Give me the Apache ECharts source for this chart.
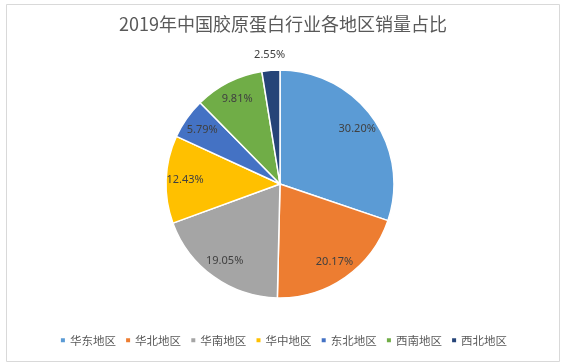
<!DOCTYPE html>
<html>
<head>
<meta charset="utf-8">
<script src="https://cdn.jsdelivr.net/npm/echarts@6/dist/echarts.min.js"></script>
<style>
html,body{margin:0;padding:0;background:#fff;}
#main{width:566px;height:364px;}
</style>
</head>
<body>
<div id="main"></div>
<script>
const titleText = '2019年中国胶原蛋白行业各地区销量占比';
const categories = ['华东地区','华北地区','华南地区','华中地区','东北地区','西南地区','西北地区'];
const shares = [30.20, 20.17, 19.05, 12.43, 5.79, 9.81, 2.55];
const colors = ['#5B9BD5','#ED7D31','#A5A5A5','#FFC000','#4472C4','#70AD47','#264478'];
const outsideLabel = [false, false, false, false, false, false, true];

const chart = echarts.init(document.getElementById('main'), null, {renderer: 'canvas'});
const pieData = categories.map((c, i) => ({name: c, value: shares[i]}));
const fmt = p => p.value.toFixed(2) + '%';
const labelFont = {fontSize: 11, color: '#404040', fontFamily: 'Noto Sans'};
const center = [280, 184];

chart.setOption({
  backgroundColor: '#fff',
  color: colors,
  animation: false,
  graphic: [{
    type: 'rect', left: 4, top: 2, silent: true,
    shape: {width: 553, height: 357},
    style: {fill: 'none', stroke: '#D9D9D9', lineWidth: 1}
  }],
  title: {
    text: titleText, left: 'center', top: 10,
    textStyle: {fontSize: 18, fontWeight: 'normal', color: '#595959', fontFamily: 'Noto Sans CJK SC'}
  },
  legend: {
    data: categories, bottom: 13, left: 'center',
    itemWidth: 6, itemHeight: 6, itemGap: 8.2, icon: 'rect',
    textStyle: {fontSize: 11.5, color: '#595959', fontFamily: 'Noto Sans CJK SC', padding: [0,0,0,-1]}
  },
  series: [
    {
      type: 'pie', center: center, radius: [0, 114], startAngle: 90, clockwise: true,
      data: pieData, label: {show: false}, labelLine: {show: false},
      itemStyle: {borderColor: '#fff', borderWidth: 1.5},
      emphasis: {disabled: true}, silent: true
    },
    {
      type: 'pie', center: center, radius: [0, 184], startAngle: 90, clockwise: true,
      data: pieData.map((d, i) => ({name: d.name, value: d.value, label: {show: !outsideLabel[i]}})),
      avoidLabelOverlap: false,
      itemStyle: {color: 'rgba(0,0,0,0)', borderWidth: 0},
      label: Object.assign({show: true, position: 'inside', formatter: fmt}, labelFont),
      labelLine: {show: false}, emphasis: {disabled: true}, silent: true, legendHoverLink: false
    },
    {
      type: 'pie', center: center, radius: [0, 254], startAngle: 90, clockwise: true,
      data: pieData.map((d, i) => ({name: d.name, value: d.value, label: {show: outsideLabel[i]}})),
      avoidLabelOverlap: false,
      itemStyle: {color: 'rgba(0,0,0,0)', borderWidth: 0},
      label: Object.assign({show: true, position: 'inside', formatter: fmt}, labelFont),
      labelLine: {show: false}, emphasis: {disabled: true}, silent: true, legendHoverLink: false
    }
  ]
});
</script>
</body>
</html>
